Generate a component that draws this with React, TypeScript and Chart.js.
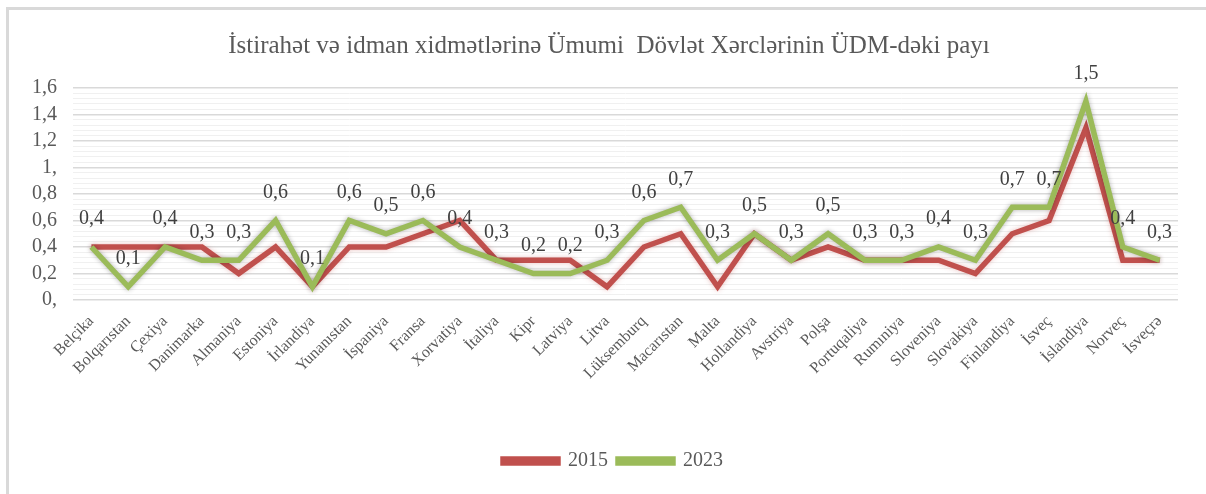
import React, { useEffect, useRef } from "react";
import { Chart, registerables } from "chart.js";

Chart.register(...registerables);

const categories = [
  "Belçika", "Bolqarıstan", "Çexiya", "Danimarka", "Almaniya", "Estoniya",
  "İrlandiya", "Yunanıstan", "İspaniya", "Fransa", "Xorvatiya", "İtaliya",
  "Kipr", "Latviya", "Litva", "Lüksemburq", "Macarıstan", "Malta",
  "Hollandiya", "Avstriya", "Polşa", "Portuqaliya", "Rumıniya", "Sloveniya",
  "Slovakiya", "Finlandiya", "İsveç", "İslandiya", "Norveç", "İsveçrə",
];

const values2015 = [
  0.4, 0.4, 0.4, 0.4, 0.2, 0.4, 0.1, 0.4, 0.4, 0.5, 0.6, 0.3, 0.3, 0.3, 0.1,
  0.4, 0.5, 0.1, 0.5, 0.3, 0.4, 0.3, 0.3, 0.3, 0.2, 0.5, 0.6, 1.3, 0.3, 0.3,
];

const values2023 = [
  0.4, 0.1, 0.4, 0.3, 0.3, 0.6, 0.1, 0.6, 0.5, 0.6, 0.4, 0.3, 0.2, 0.2, 0.3,
  0.6, 0.7, 0.3, 0.5, 0.3, 0.5, 0.3, 0.3, 0.4, 0.3, 0.7, 0.7, 1.5, 0.4, 0.3,
];

const yTickLabels = ["0,", "0,2", "0,4", "0,6", "0,8", "1,", "1,2", "1,4", "1,6"];

const titleText = "İstirahət və idman xidmətlərinə Ümumi  Dövlət Xərclərinin ÜDM-dəki payı";

const FONT = "'Liberation Serif', 'Times New Roman', serif";

const glowPlugin = {
  id: "glow",
  beforeDatasetDraw(chart: any, args: any) {
    const ctx = chart.ctx;
    ctx.save();
    ctx.shadowBlur = 5;
    ctx.shadowOffsetX = 0;
    ctx.shadowOffsetY = 0;
    ctx.shadowColor = args.index === 0 ? "rgba(192,80,77,0.35)" : "rgba(0,0,0,0.3)";
  },
  afterDatasetDraw(chart: any) {
    chart.ctx.restore();
  },
};

const shiftBlocksPlugin = {
  id: "shiftBlocks",
  afterLayout(chart: any) {
    if (chart.legend) {
      chart.legend.left += 24;
      chart.legend.right += 24;
    }
    if (chart.titleBlock) {
      chart.titleBlock.left += 20;
      chart.titleBlock.right += 20;
    }
  },
};

const dataLabelPlugin = {
  id: "dataLabels",
  afterDatasetsDraw(chart: any) {
    const ctx = chart.ctx;
    const meta = chart.getDatasetMeta(1);
    const data = chart.data.datasets[1].data;
    ctx.save();
    ctx.font = `20px ${FONT}`;
    ctx.fillStyle = "#404040";
    ctx.textAlign = "center";
    ctx.textBaseline = "middle";
    meta.data.forEach((pt: any, i: number) => {
      const label = String(data[i]).replace(".", ",");
      ctx.fillText(label, pt.x, pt.y - 28);
    });
    ctx.restore();
  },
};

export default function App() {
  const ref = useRef<HTMLCanvasElement | null>(null);

  useEffect(() => {
    if (!ref.current) return;
    const chart = new Chart(ref.current, {
      type: "line",
      data: {
        labels: categories,
        datasets: [
          {
            label: "2015",
            data: values2015,
            borderColor: "#c0504d",
            backgroundColor: "#c0504d",
            borderWidth: 5.5,
            pointRadius: 0,
            tension: 0,
            borderJoinStyle: "miter",
            order: 2,
          },
          {
            label: "2023",
            data: values2023,
            borderColor: "#9bbb59",
            backgroundColor: "#9bbb59",
            borderWidth: 5.5,
            pointRadius: 0,
            tension: 0,
            borderJoinStyle: "miter",
            order: 1,
          },
        ],
      },
      options: {
        animation: false,
        responsive: false,
        maintainAspectRatio: false,
        layout: { padding: { left: 0, right: 28, top: 0, bottom: 13 } },
        plugins: {
          title: {
            display: true,
            text: titleText,
            color: "#595959",
            font: { family: FONT, size: 25, weight: "normal" },
            padding: { top: 31, bottom: 27 },
          },
          legend: {
            position: "bottom",
            labels: {
              color: "#595959",
              font: { family: FONT, size: 20 },
              boxWidth: 55,
              boxHeight: 4,
              padding: 10,
              sort: (a: any, b: any) => a.datasetIndex - b.datasetIndex,
            },
          },
          tooltip: { enabled: false },
        },
        scales: {
          x: {
            offset: true,
            grid: { display: false },
            border: { display: false },
            ticks: {
              color: "#595959",
              font: { family: FONT, size: 16 },
              minRotation: 45,
              maxRotation: 45,
              autoSkip: false,
              padding: 4,
            },
            afterFit(scale: any) {
              scale.height = 141;
            },
          },
          y: {
            min: 0,
            max: 1.6,
            border: { display: false },
            grid: {
              color: (c: any) => (c.index % 5 === 0 ? "#d9d9d9" : "#f0f0f0"),
              lineWidth: (c: any) => (c.index % 5 === 0 ? 1.5 : 1),
              drawTicks: false,
            },
            ticks: {
              stepSize: 0.04,
              autoSkip: false,
              color: "#595959",
              font: { family: FONT, size: 20 },
              padding: 16,
              callback: (_v: any, i: number) => (i % 5 === 0 ? yTickLabels[i / 5] : ""),
            },
            afterFit(scale: any) {
              scale.width = 73;
            },
          },
        },
      },
      plugins: [glowPlugin, shiftBlocksPlugin, dataLabelPlugin],
    });
    return () => chart.destroy();
  }, []);

  return (
    <div style={{ position: "absolute", left: 0, top: 0, width: 1206, height: 494, background: "#fff" }}>
      <div
        style={{
          position: "absolute",
          left: 6,
          top: 7,
          right: 0,
          bottom: 0,
          borderLeft: "3px solid #d9d9d9",
          borderTop: "3px solid #d9d9d9",
        }}
      />
      <canvas ref={ref} width={1206} height={494} style={{ position: "absolute", left: 0, top: 0 }} />
    </div>
  );
}
